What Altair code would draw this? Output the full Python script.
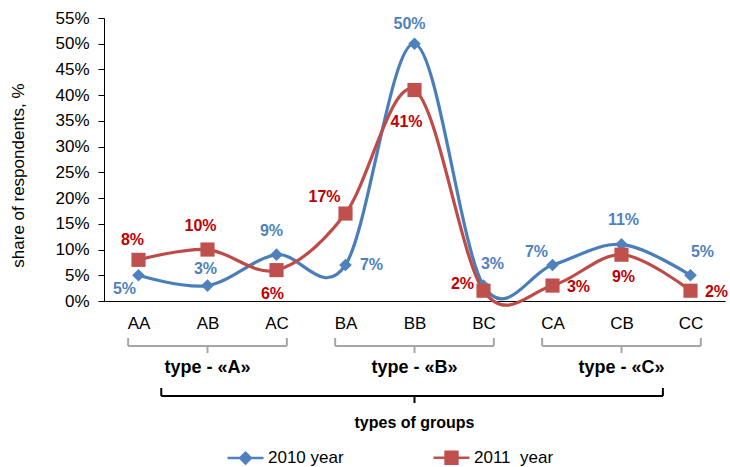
import json
import altair as alt
import pandas as pd

# ---------------- data ----------------
categories = ["AA", "AB", "AC", "BA", "BB", "BC", "CA", "CB", "CC"]
series_names = ["2010 year", "2011  year"]
values_2010 = [5, 3, 9, 7, 50, 3, 7, 11, 5]
values_2011 = [8, 10, 6, 17, 41, 2, 3, 9, 2]
group_names = ["type - «A»", "type - «B»", "type - «C»"]
group_members = [["AA", "AB", "AC"], ["BA", "BB", "BC"], ["CA", "CB", "CC"]]
x_title = "types of groups"
y_title = "share of respondents, %"
y_ticks = [0, 5, 10, 15, 20, 25, 30, 35, 40, 45, 50, 55]

# ---------------- styles ----------------
FONT = "Liberation Sans"
line_colors = ["#4A7EBB", "#BE4B48"]
marker_colors = ["#4F81BD", "#C0504D"]
label_colors = ["#4F81BD", "#C00000"]
marker_shapes = ["diamond", "square"]
marker_sizes = [160, 200]
legend_paths = [
    "M-1,0H-0.3M0.3,0H1M-0.3,0L0,-0.3L0.3,0L0,0.3Z",
    "M-1,0H-0.33M0.33,0H1M-0.33,-0.33H0.33V0.33H-0.33Z",
]
# label pixel offsets (dx, dy) per point
label_offsets = [
    [(-14, 14), (-2, -17), (-5, -24), (26, 0), (-5, -20), (9, -22), (-16, -13), (2, -24), (12, -23)],
    [(-6, -20), (-7, -24), (-4, 24), (-21, -17), (-8, 32), (-21, -7), (26, 1), (2, 22), (26, 1)],
]

rows = []
for s, vals in zip(series_names, [values_2010, values_2011]):
    for i, (c, v) in enumerate(zip(categories, vals)):
        rows.append({"idx": i, "category": c, "series": s, "value": v / 100, "label": f"{v}%"})
df = pd.DataFrame(rows)

xscale = alt.Scale(domain=[-0.5, len(categories) - 0.5], nice=False, zero=False)
yscale = alt.Scale(domain=[0, y_ticks[-1] / 100], nice=False)

x_axis = alt.Axis(
    values=list(range(len(categories))),
    labelExpr=json.dumps(categories) + "[datum.value]",
    title=None, ticks=False, tickSize=0, labelPadding=14, grid=False,
    labelFont=FONT, labelFontSize=17, labelColor="black",
    domainColor="black", domainWidth=1,
)
y_axis = alt.Axis(
    values=[t / 100 for t in y_ticks], format=".0%", grid=False,
    ticks=True, tickSize=6, tickColor="black", domainColor="black", labelPadding=9,
    labelFont=FONT, labelFontSize=17, labelColor="black",
    title=y_title, titleFont=FONT, titleFontSize=17, titleFontWeight="normal",
    titleColor="black", titleX=-86, titleY=157, titleAngle=270,
    titleAlign="center", titleBaseline="middle",
)

def X(field="idx:Q"):
    return alt.X(field, scale=xscale, axis=x_axis)

def Y():
    return alt.Y("value:Q", scale=yscale, axis=y_axis)

base = alt.Chart(df)

lines = base.mark_line(interpolate="cardinal", tension=0, strokeWidth=3.2).encode(
    x=X(), y=Y(),
    stroke=alt.Stroke("series:N", scale=alt.Scale(domain=series_names, range=line_colors), legend=None),
)

points = base.mark_point(filled=True, opacity=1).encode(
    x=X(), y=Y(),
    fill=alt.Fill("series:N", scale=alt.Scale(domain=series_names, range=marker_colors), legend=None),
    shape=alt.Shape("series:N", scale=alt.Scale(domain=series_names, range=marker_shapes), legend=None),
    size=alt.Size("series:N", scale=alt.Scale(domain=series_names, range=marker_sizes), legend=None),
)

label_layers = []
for si, s in enumerate(series_names):
    for i in range(len(categories)):
        dx, dy = label_offsets[si][i]
        label_layers.append(
            base.transform_filter((alt.datum.series == s) & (alt.datum.idx == i))
            .mark_text(font=FONT, fontSize=16, fontWeight="bold", dx=dx, dy=dy,
                       align="center", baseline="middle", color=label_colors[si])
            .encode(x=X(), y=Y(), text="label:N")
        )

# bracket data derived from the category groups
brk_rows = []
for g, members in zip(group_names, group_members):
    ids = [categories.index(m) for m in members]
    brk_rows.append({"name": g, "x0": ids[0] - 0.15, "x1": ids[-1] + 0.15, "xm": (ids[0] + ids[-1]) / 2})
brk = pd.DataFrame(brk_rows)
bchart = alt.Chart(brk)
GRAY = "#A6A6A6"
small_h = bchart.mark_rule(color=GRAY, strokeWidth=2).encode(x=X("x0:Q"), x2="x1:Q", y=alt.value(328))
small_l = bchart.mark_rule(color=GRAY, strokeWidth=2).encode(x=X("x0:Q"), y=alt.value(320), y2=alt.value(328))
small_r = bchart.mark_rule(color=GRAY, strokeWidth=2).encode(x=X("x1:Q"), y=alt.value(320), y2=alt.value(328))
small_s = bchart.mark_rule(color=GRAY, strokeWidth=2).encode(x=X("xm:Q"), y=alt.value(328), y2=alt.value(335))
group_text = bchart.mark_text(font=FONT, fontSize=18, fontWeight="bold", color="black",
                              align="center", baseline="middle").encode(
    x=X("xm:Q"), y=alt.value(350), text="name:N")

big = pd.DataFrame([{"name": x_title, "x0": 0.33, "x1": 7.6, "xm": len(categories) // 2}])
bigc = alt.Chart(big)
big_h = bigc.mark_rule(color="black", strokeWidth=2).encode(x=X("x0:Q"), x2="x1:Q", y=alt.value(378))
big_l = bigc.mark_rule(color="black", strokeWidth=2).encode(x=X("x0:Q"), y=alt.value(370), y2=alt.value(378))
big_r = bigc.mark_rule(color="black", strokeWidth=2).encode(x=X("x1:Q"), y=alt.value(370), y2=alt.value(378))
big_s = bigc.mark_rule(color="black", strokeWidth=2).encode(x=X("xm:Q"), y=alt.value(378), y2=alt.value(385))
big_text = bigc.mark_text(font=FONT, fontSize=16, fontWeight="bold", color="black",
                          align="center", baseline="middle").encode(
    x=X("xm:Q"), y=alt.value(405), text="name:N")

leg = alt.Legend(
    orient="none", legendX=122, legendY=420, direction="horizontal", title=None,
    symbolSize=1296, symbolStrokeWidth=2.5, symbolOpacity=1, labelFont=FONT, labelFontSize=17,
    labelColor="black", labelOffset=3, columnPadding=84, padding=0,
    labelExpr="replace(datum.label, '  ', '\u00a0 ')",
)
legend_layer = base.mark_point(filled=True, size=0, opacity=1).encode(
    x=X(), y=Y(),
    fill=alt.Fill("series:N", scale=alt.Scale(domain=series_names, range=marker_colors), legend=leg),
    stroke=alt.Stroke("series:N", scale=alt.Scale(domain=series_names, range=marker_colors), legend=leg),
    shape=alt.Shape("series:N", scale=alt.Scale(domain=series_names, range=legend_paths), legend=leg),
)

chart = alt.layer(
    lines, points, *label_layers,
    small_h, small_l, small_r, small_s, group_text,
    big_h, big_l, big_r, big_s, big_text,
    legend_layer,
).resolve_scale(
    fill="independent", stroke="independent", shape="independent", size="independent"
).properties(
    width=621, height=283, background="white",
    autosize=alt.AutoSizeParams(type="none"),
    padding={"left": 104, "top": 18, "right": 5, "bottom": 166},
).configure_view(stroke=None)

chart.save("out.html", embed_options={"renderer": "svg", "actions": False})
